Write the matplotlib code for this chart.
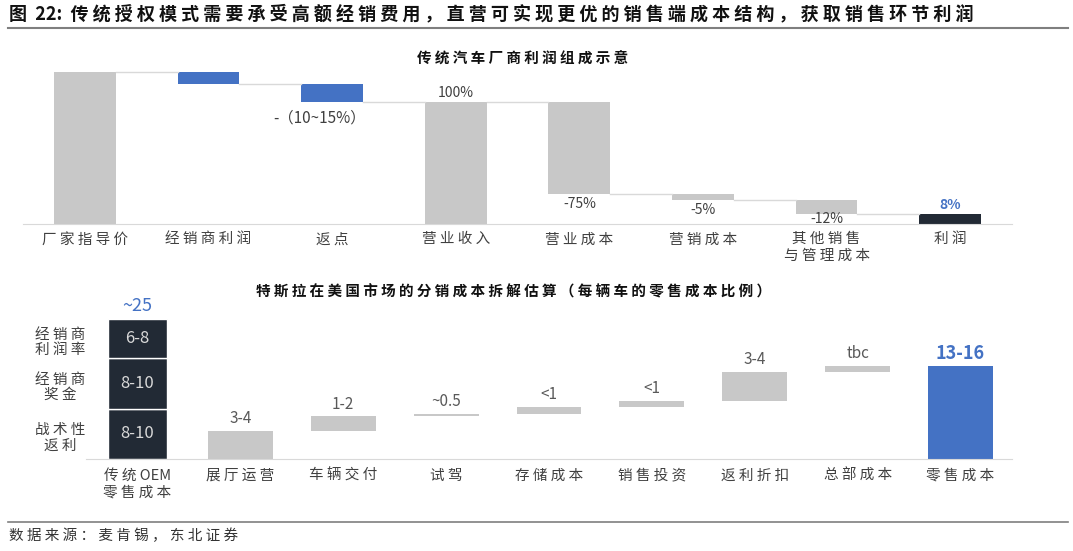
import numpy as np
import matplotlib
matplotlib.use('Agg')
import matplotlib.pyplot as plt
from matplotlib.lines import Line2D

plt.rcParams['font.family'] = ['Noto Sans CJK SC', 'DejaVu Sans']

# 上图：传统汽车厂商利润组成（瀑布图）
top_cats = ['厂家指导价', '经销商利润', '返点', '营业收入', '营业成本', '营销成本', '其他销售\n与管理成本', '利润']
top_vals = [125, -10, -15, 100, -75, -5, -12, 8]
top_kind = ['total', 'delta', 'delta', 'total', 'delta', 'delta', 'delta', 'total']
top_labels = ['', '', '-（10~15%）', '100%', '-75%', '-5%', '-12%', '8%']

# 下图：特斯拉在美国市场的分销成本拆解
bot_cats = ['传统OEM\n零售成本', '展厅运营', '车辆交付', '试驾', '存储成本', '销售投资', '返利折扣', '总部成本', '零售成本']
oem_parts = [9, 9, 7]
oem_part_labels = ['8-10', '8-10', '6-8']
oem_part_names = ['战术性\n返利', '经销商\n奖金', '经销商\n利润率']
tesla_vals = [5.0, 2.6, 0.4, 1.3, 1.1, 5.1, 1.1]
tesla_labels = ['3-4', '1-2', '~0.5', '<1', '<1', '3-4', 'tbc']
oem_total_label = '~25'
tesla_total_label = '13-16'

GRAY = '#C8C8C8'
BLUE = '#4472C4'
NAVY = '#222A35'
TXT = '#404040'
W, H = 1073, 551


def sp(s):
    # 中文字符之间加空格，模仿原图较宽的字距
    out = ''
    for i, ch in enumerate(s):
        out += ch
        nxt = s[i + 1] if i + 1 < len(s) else '\n'
        if ord(ch) > 0x2E80 and nxt != '\n':
            out += ' '
    return out


fig = plt.figure(figsize=(W / 100, H / 100), dpi=100)


def px_axes(x0, y_top, x1, y_base):
    return fig.add_axes([x0 / W, 1 - y_base / H, (x1 - x0) / W, (y_base - y_top) / H])


# 标题
fig.text(9 / W, 1 - 14 / H, '图  22:  ' + sp('传统授权模式需要承受高额经销费用，直营可实现更优的销售端成本结构，获取销售环节利润'),
         fontsize=13, fontweight='bold', color='#111111', va='center', ha='left')
fig.add_artist(Line2D([8 / W, 1068 / W], [1 - 28 / H, 1 - 28 / H], color='#7F7F7F', lw=1.5))

# ---- 上图 ----
ax = px_axes(23, 224 - 1.22 * 135, 1012, 224)
ax.set_xlim(-0.5, len(top_cats) - 0.5)
ax.set_ylim(0, 135)
level = 0
bottoms, heights, colors = [], [], []
for i, (v, k) in enumerate(zip(top_vals, top_kind)):
    if k == 'total':
        b, h = 0, v
        level = v
        c = NAVY if i == len(top_vals) - 1 else GRAY
    else:
        b, h = level + v, -v
        level = level + v
        c = BLUE if i < 3 else GRAY
    bottoms.append(b)
    heights.append(h)
    colors.append(c)
x = np.arange(len(top_cats))
bw = 0.5
ax.bar(x, heights, bottom=bottoms, width=bw, color=colors, edgecolor='none')
# 连接线
for i in range(len(top_cats) - 1):
    y = bottoms[i] + heights[i] if top_kind[i] == 'total' else bottoms[i]
    ax.plot([x[i] + bw / 2, x[i + 1] - bw / 2], [y, y], color='#D9D9D9', lw=1)

for i, lab in enumerate(top_labels):
    if not lab:
        continue
    if i == 2:
        ax.text(x[i] - 0.1, bottoms[i] - 13, lab, ha='center', va='center', fontsize=11, color=TXT)
    elif top_kind[i] == 'total' and i == len(top_labels) - 1:
        ax.text(x[i], bottoms[i] + heights[i] + 2, lab, ha='center', va='bottom', fontsize=10,
                color=BLUE, fontweight='bold')
    elif top_kind[i] == 'total':
        ax.text(x[i], bottoms[i] + heights[i] + 2, lab, ha='center', va='bottom', fontsize=10, color=TXT)
    else:
        ax.text(x[i], max(bottoms[i] - 2.5, 10), lab, ha='center', va='top', fontsize=10, color=TXT)

ax.set_xticks(x)
ax.set_xticklabels([sp(c) for c in top_cats], fontsize=10.5, color=TXT, linespacing=1.2)
ax.tick_params(axis='x', length=0, pad=6)
ax.set_yticks([])
for s in ['top', 'right', 'left']:
    ax.spines[s].set_visible(False)
ax.spines['bottom'].set_color('#D9D9D9')
fig.text(523 / W, 1 - 59 / H, sp('传统汽车厂商利润组成示意'), fontsize=10.5, fontweight='bold',
         color='#111111', ha='center', va='center')

# ---- 下图 ----
bx = px_axes(86, 459 - 5.6 * 27, 1012, 459)
bx.set_xlim(-0.5, len(bot_cats) - 0.5)
bx.set_ylim(0, 27)
xb = np.arange(len(bot_cats))
bw2 = 0.63

# 传统OEM 堆叠柱
base = 0
for part, lab, name in zip(oem_parts, oem_part_labels, oem_part_names):
    bx.bar(xb[0], part, bottom=base, width=0.57, color=NAVY, edgecolor='white', linewidth=1)
    bx.text(xb[0], base + part / 2, lab, ha='center', va='center', fontsize=12, color='#D9D9D9')
    bx.text(-0.75, base + part / 2 - 0.7, sp(name), ha='center', va='center', fontsize=10.5, color=TXT,
            linespacing=1.1, clip_on=False)
    base += part
bx.text(xb[0], base + 0.7, oem_total_label, ha='center', va='bottom', fontsize=13, color=BLUE)

# 特斯拉各项（浮动柱）
cum = np.concatenate([[0], np.cumsum(tesla_vals)])
bx.bar(xb[1:-1], tesla_vals, bottom=cum[:-1], width=bw2, color=GRAY, edgecolor='none')
for i, lab in enumerate(tesla_labels):
    bx.text(xb[i + 1], cum[i + 1] + 0.7, lab, ha='center', va='bottom', fontsize=11, color='#595959')
total = cum[-1]
bx.bar(xb[-1], total, width=bw2, color=BLUE, edgecolor='none')
bx.text(xb[-1], total + 0.6, tesla_total_label, ha='center', va='bottom', fontsize=13,
        color=BLUE, fontweight='bold')

bx.set_xticks(xb)
bx.set_xticklabels([sp(c) for c in bot_cats], fontsize=10.5, color=TXT, linespacing=1.25)
bx.tick_params(axis='x', length=0, pad=7)
bx.set_yticks([])
for s in ['top', 'right', 'left']:
    bx.spines[s].set_visible(False)
bx.spines['bottom'].set_color('#D9D9D9')
fig.text(514 / W, 1 - 291 / H, sp('特斯拉在美国市场的分销成本拆解估算（每辆车的零售成本比例）'), fontsize=10.5,
         fontweight='bold', color='#111111', ha='center', va='center')

# 数据来源
fig.add_artist(Line2D([8 / W, 1068 / W], [1 - 522 / H, 1 - 522 / H], color='#7F7F7F', lw=1.2))
fig.text(9 / W, 1 - 536 / H, sp('数据来源：麦肯锡，东北证券'), fontsize=10.5, color='#333333', va='center', ha='left')

fig.savefig('out.png', dpi=100)
